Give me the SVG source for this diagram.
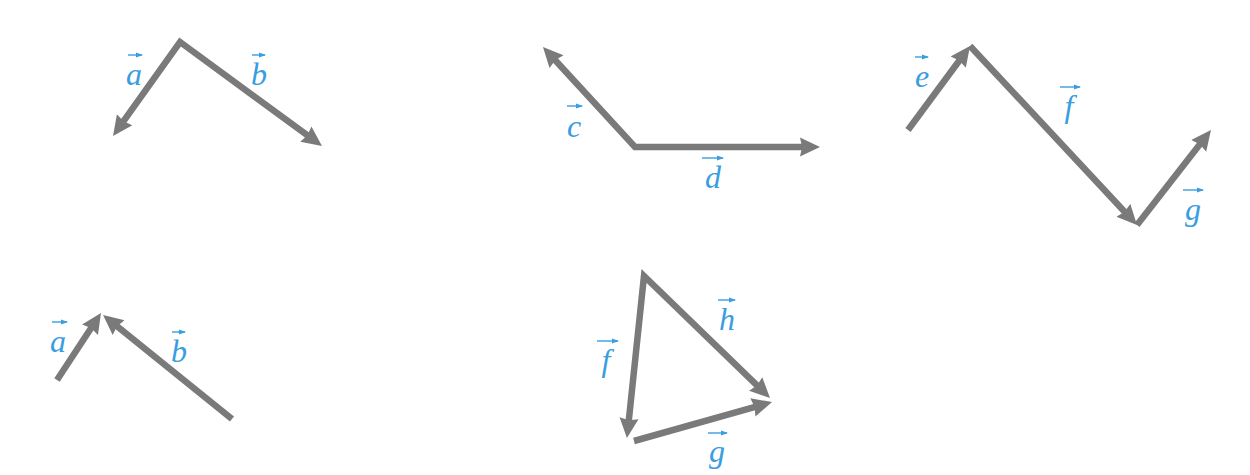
<svg xmlns="http://www.w3.org/2000/svg" width="1250" height="475" viewBox="0 0 1250 475">
<style>
.v{fill:none;stroke:#7a7a7a;stroke-width:6.5;stroke-linejoin:miter;stroke-miterlimit:10;marker-end:url(#ah)}
.v2{marker-start:url(#ahs)}
.l{font-family:"Liberation Serif",serif;font-style:italic;font-size:32px;fill:#3a9de0;text-anchor:middle}
.va{stroke:#3a9de0;stroke-width:1.4;fill:none;marker-end:url(#sm)}
</style>
<defs>
<marker id="ah" markerUnits="userSpaceOnUse" markerWidth="22" markerHeight="22" viewBox="0 -11 22 22" refX="8" refY="0" orient="auto"><path d="M0,-9.5 L20,0 L0,9.5 L2,0 z" fill="#7a7a7a"/></marker>
<marker id="ahs" markerUnits="userSpaceOnUse" markerWidth="22" markerHeight="22" viewBox="0 -11 22 22" refX="8" refY="0" orient="auto-start-reverse"><path d="M0,-9.5 L20,0 L0,9.5 L2,0 z" fill="#7a7a7a"/></marker>
<marker id="sm" markerUnits="userSpaceOnUse" markerWidth="8" markerHeight="6" viewBox="0 -3 8 6" refX="6" refY="0" orient="auto"><path d="M0,-2.5 L7,0 L0,2.5 z" fill="#3a9de0"/></marker>
</defs>
<rect x="0" y="0" width="1250" height="475" fill="#ffffff"/>
<g id="connectors">
<path class="v v2" d="M120,126.2 L180,42 L312.3,138.9"/>
<path class="v v2" d="M551.1,55.8 L635,147 L808,147"/>
<path class="v" d="M908,130 L962.9,55.7"/>
<path class="v" d="M970,46 L1128.8,216.2"/>
<path class="v" d="M1137,225 L1203.6,139.5"/>
<path class="v" d="M57,380 L94.4,323"/>
<path class="v" d="M232,419 L112.4,322.5"/>
<path class="v v2" d="M628.2,426.1 L644,276 L761.4,389.6"/>
<path class="v" d="M634,441 L760.5,405.3"/>
</g>
<g id="label-a1"><path class="va" d="M128,55 L142,55"/><text class="l" x="134" y="85">a</text></g>
<g id="label-b1"><path class="va" d="M252,55 L265,55"/><text class="l" x="259" y="85">b</text></g>
<g id="label-c"><path class="va" d="M567,106 L582,106"/><text class="l" x="574" y="137">c</text></g>
<g id="label-d"><path class="va" d="M702,158 L723,158"/><text class="l" x="713" y="188">d</text></g>
<g id="label-e"><path class="va" d="M915,57 L928,57"/><text class="l" x="922" y="87">e</text></g>
<g id="label-f1"><path class="va" d="M1060,87 L1080,87"/><text class="l" x="1069" y="117">f</text></g>
<g id="label-g1"><path class="va" d="M1183,190 L1203,190"/><text class="l" x="1193" y="220">g</text></g>
<g id="label-a2"><path class="va" d="M52,322 L67,322"/><text class="l" x="58" y="352">a</text></g>
<g id="label-b2"><path class="va" d="M172,332 L185,332"/><text class="l" x="179" y="362">b</text></g>
<g id="label-f2"><path class="va" d="M597,341 L618,341"/><text class="l" x="606" y="371">f</text></g>
<g id="label-h"><path class="va" d="M718,300 L735,300"/><text class="l" x="727" y="330">h</text></g>
<g id="label-g2"><path class="va" d="M708,433 L727,433"/><text class="l" x="717" y="462">g</text></g>
</svg>
